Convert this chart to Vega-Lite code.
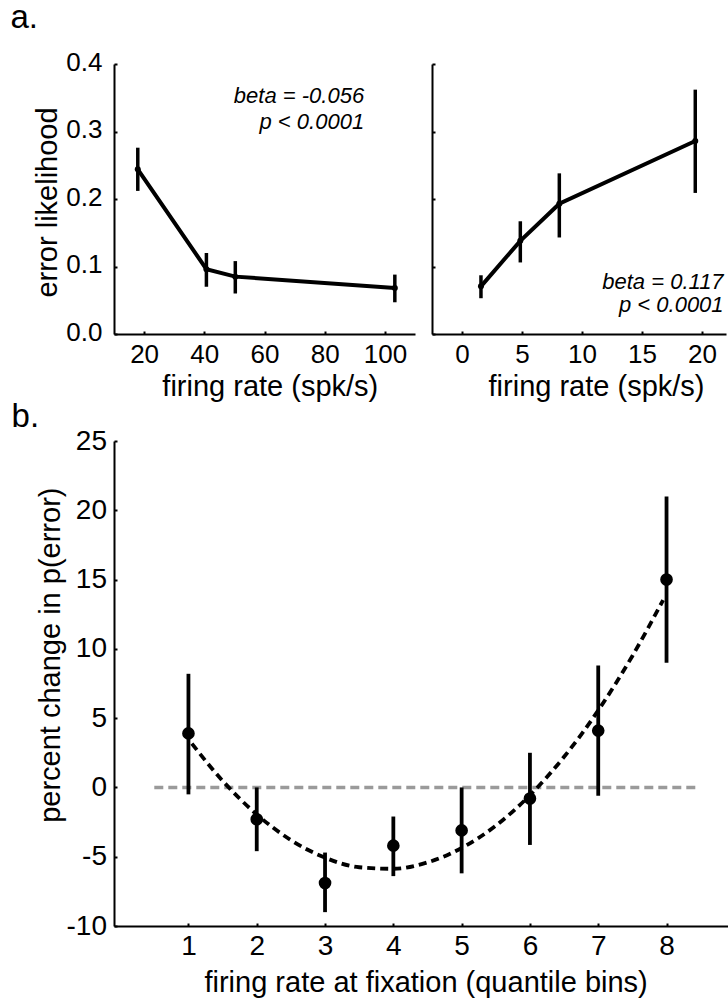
{
  "$schema": "https://vega.github.io/schema/vega-lite/v6.json",
  "background": "white",
  "padding": {"left": 10, "top": 2, "right": 0, "bottom": 0},
  "datasets": {
    "left": [
      {"rate": 17.9, "p": 0.244, "lo": 0.212, "hi": 0.276},
      {"rate": 40.7, "p": 0.096, "lo": 0.070, "hi": 0.120},
      {"rate": 50.3, "p": 0.085, "lo": 0.060, "hi": 0.108},
      {"rate": 103.3, "p": 0.068, "lo": 0.047, "hi": 0.088}
    ],
    "right": [
      {"rate": 1.58, "p": 0.0706, "lo": 0.053, "hi": 0.087},
      {"rate": 4.86, "p": 0.138, "lo": 0.106, "hi": 0.167},
      {"rate": 8.11, "p": 0.193, "lo": 0.143, "hi": 0.238},
      {"rate": 19.44, "p": 0.286, "lo": 0.209, "hi": 0.362}
    ],
    "bins": [
      {"bin": 1, "pct": 3.9, "lo": -0.5, "hi": 8.2},
      {"bin": 2, "pct": -2.3, "lo": -4.6, "hi": 0.0},
      {"bin": 3, "pct": -6.9, "lo": -9.0, "hi": -4.7},
      {"bin": 4, "pct": -4.2, "lo": -6.4, "hi": -2.1},
      {"bin": 5, "pct": -3.1, "lo": -6.2, "hi": 0.0},
      {"bin": 6, "pct": -0.8, "lo": -4.15, "hi": 2.5},
      {"bin": 7, "pct": 4.1, "lo": -0.6, "hi": 8.8},
      {"bin": 8, "pct": 15.0, "lo": 9.0, "hi": 21.0}
    ],
    "fit": [
      {"bin": 1.05, "fit": 3.16},
      {"bin": 1.5, "fit": 0.48},
      {"bin": 2.0, "fit": -1.95},
      {"bin": 2.5, "fit": -3.8},
      {"bin": 3.0, "fit": -5.07},
      {"bin": 3.5, "fit": -5.76},
      {"bin": 4.0, "fit": -5.87},
      {"bin": 4.5, "fit": -5.41},
      {"bin": 5.0, "fit": -4.37},
      {"bin": 5.5, "fit": -2.76},
      {"bin": 6.0, "fit": -0.56},
      {"bin": 6.5, "fit": 2.21},
      {"bin": 7.0, "fit": 5.56},
      {"bin": 7.5, "fit": 9.49},
      {"bin": 7.95, "fit": 13.52}
    ]
  },
  "config": {
    "view": {"stroke": null},
    "font": "Liberation Sans",
    "axis": {
      "grid": false,
      "domainColor": "#000000",
      "domainWidth": 2,
      "tickColor": "#000000",
      "tickWidth": 2,
      "tickSize": -3,
      "labelColor": "#000000",
      "labelFont": "Liberation Sans",
      "labelFontSize": 26,
      "labelFlush": false,
      "labelOverlap": false,
      "titleFont": "Liberation Sans",
      "titleFontWeight": "normal",
      "titleColor": "#000000",
      "titleFontSize": 29,
      "titleBaseline": "alphabetic"
    }
  },
  "concat": [
    {
      "hconcat": [
        {
          "width": 301,
          "height": 270,
          "layer": [
            {
              "data": {"name": "left"},
              "mark": {"type": "line", "color": "#000000", "strokeWidth": 4},
              "encoding": {
                "x": {"field": "rate", "type": "quantitative", "scale": {"domain": [10, 110], "nice": false, "zero": false},
                      "axis": {"values": [20, 40, 60, 80, 100], "labelFontSize": 26, "labelPadding": 10, "title": "firing rate (spk/s)", "titleX": 155.8, "titleY": 61}},
                "y": {"field": "p", "type": "quantitative", "scale": {"domain": [0, 0.4], "nice": false, "zero": false},
                      "axis": {"values": [0, 0.1, 0.2, 0.3, 0.4], "format": ".1f", "labelFontSize": 26, "labelPadding": 15, "labelOffset": -2, "title": "error likelihood", "titleX": -58, "titleY": 138}}
              }
            },
            {
              "data": {"name": "left"},
              "mark": {"type": "rule", "color": "#000000", "strokeWidth": 3.5},
              "encoding": {
                "x": {"field": "rate", "type": "quantitative", "title": "firing rate (spk/s)"},
                "y": {"field": "lo", "type": "quantitative", "title": "error likelihood"},
                "y2": {"field": "hi"}
              }
            },
            {
              "data": {"name": "left"},
              "mark": {"type": "circle", "color": "#000000", "opacity": 1, "size": 36},
              "encoding": {
                "x": {"field": "rate", "type": "quantitative", "title": "firing rate (spk/s)"},
                "y": {"field": "p", "type": "quantitative", "title": "error likelihood"}
              }
            },
            {
              "data": {"values": [{}]},
              "mark": {"type": "text", "align": "right", "baseline": "alphabetic", "fontStyle": "italic", "fontSize": 22, "color": "#000000"},
              "encoding": {"x": {"datum": 93.1}, "y": {"datum": 0.342}, "text": {"value": "beta = -0.056"}}
            },
            {
              "data": {"values": [{}]},
              "mark": {"type": "text", "align": "right", "baseline": "alphabetic", "fontStyle": "italic", "fontSize": 22, "color": "#000000"},
              "encoding": {"x": {"datum": 93.1}, "y": {"datum": 0.3037}, "text": {"value": "p < 0.0001"}}
            },
            {
              "data": {"values": [{}]},
              "mark": {"type": "text", "align": "left", "baseline": "alphabetic", "fontSize": 33, "color": "#000000"},
              "encoding": {"x": {"datum": -24.39}, "y": {"datum": 0.4533}, "text": {"value": "a."}}
            }
          ]
        },
        {
          "width": 294,
          "height": 270,
          "layer": [
            {
              "data": {"name": "right"},
              "mark": {"type": "line", "color": "#000000", "strokeWidth": 4},
              "encoding": {
                "x": {"field": "rate", "type": "quantitative", "scale": {"domain": [-2.5, 22], "nice": false, "zero": false},
                      "axis": {"values": [0, 5, 10, 15, 20], "labelFontSize": 26, "labelPadding": 10, "title": "firing rate (spk/s)", "titleX": 164, "titleY": 61}},
                "y": {"field": "p", "type": "quantitative", "scale": {"domain": [0, 0.4], "nice": false, "zero": false},
                      "axis": {"values": [0, 0.1, 0.2, 0.3, 0.4], "labels": false, "title": null}}
              }
            },
            {
              "data": {"name": "right"},
              "mark": {"type": "rule", "color": "#000000", "strokeWidth": 3.5},
              "encoding": {
                "x": {"field": "rate", "type": "quantitative", "title": "firing rate (spk/s)"},
                "y": {"field": "lo", "type": "quantitative", "title": null},
                "y2": {"field": "hi"}
              }
            },
            {
              "data": {"name": "right"},
              "mark": {"type": "circle", "color": "#000000", "opacity": 1, "size": 36},
              "encoding": {
                "x": {"field": "rate", "type": "quantitative", "title": "firing rate (spk/s)"},
                "y": {"field": "p", "type": "quantitative", "title": null}
              }
            },
            {
              "data": {"values": [{}]},
              "mark": {"type": "text", "align": "right", "baseline": "alphabetic", "fontStyle": "italic", "fontSize": 22, "color": "#000000"},
              "encoding": {"x": {"datum": 21.8}, "y": {"datum": 0.0667}, "text": {"value": "beta = 0.117"}}
            },
            {
              "data": {"values": [{}]},
              "mark": {"type": "text", "align": "right", "baseline": "alphabetic", "fontStyle": "italic", "fontSize": 22, "color": "#000000"},
              "encoding": {"x": {"datum": 21.8}, "y": {"datum": 0.032}, "text": {"value": "p < 0.0001"}}
            }
          ]
        }
      ],
      "spacing": 16
    },
    {
      "width": 614,
      "height": 485,
      "layer": [
        {
          "data": {"values": [{}]},
          "mark": {"type": "rule", "color": "#9a9a9a", "strokeWidth": 3.6, "strokeDash": [9, 5]},
          "encoding": {
            "x": {"datum": 0.5, "scale": {"domain": [-0.09, 8.9], "nice": false, "zero": false},
                  "axis": {"values": [1, 2, 3, 4, 5, 6, 7, 8], "labelExpr": "'' + datum.value", "labelFontSize": 28, "labelPadding": 9, "title": "firing rate at fixation (quantile bins)", "titleX": 311.6, "titleY": 65.4}},
            "x2": {"datum": 8.45},
            "y": {"datum": 0, "scale": {"domain": [-10, 25], "nice": false, "zero": false},
                  "axis": {"values": [-10, -5, 0, 5, 10, 15, 20, 25], "labelExpr": "'' + datum.value", "labelFontSize": 28, "labelPadding": 10.5, "title": "percent change in p(error)", "titleX": -54.4, "titleY": 213.7}}
          }
        },
        {
          "data": {"name": "fit"},
          "mark": {"type": "line", "color": "#000000", "strokeWidth": 3.8, "strokeDash": [8, 5], "interpolate": "monotone"},
          "encoding": {
            "x": {"field": "bin", "type": "quantitative", "title": "firing rate at fixation (quantile bins)"},
            "y": {"field": "fit", "type": "quantitative", "title": "percent change in p(error)"}
          }
        },
        {
          "data": {"name": "bins"},
          "mark": {"type": "rule", "color": "#000000", "strokeWidth": 3.8},
          "encoding": {
            "x": {"field": "bin", "type": "quantitative", "title": "firing rate at fixation (quantile bins)"},
            "y": {"field": "lo", "type": "quantitative", "title": "percent change in p(error)"},
            "y2": {"field": "hi"}
          }
        },
        {
          "data": {"name": "bins"},
          "mark": {"type": "circle", "color": "#000000", "opacity": 1, "size": 160},
          "encoding": {
            "x": {"field": "bin", "type": "quantitative", "title": "firing rate at fixation (quantile bins)"},
            "y": {"field": "pct", "type": "quantitative", "title": "percent change in p(error)"}
          }
        },
        {
          "data": {"values": [{}]},
          "mark": {"type": "text", "align": "left", "baseline": "alphabetic", "fontSize": 33, "color": "#000000"},
          "encoding": {"x": {"datum": -1.589}, "y": {"datum": 26.01}, "text": {"value": "b."}}
        }
      ]
    }
  ],
  "columns": 1,
  "align": "none",
  "spacing": 0
}
